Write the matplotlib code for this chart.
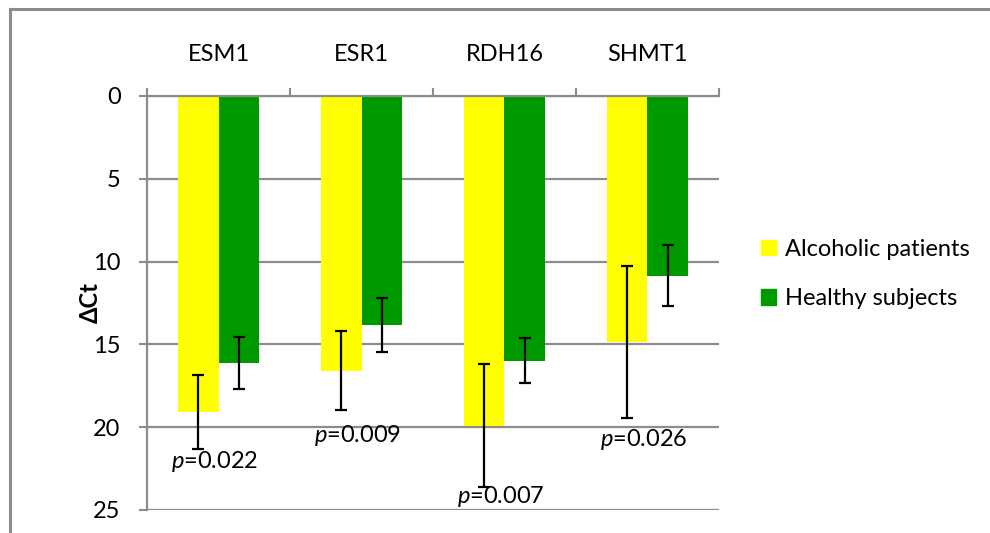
import matplotlib.pyplot as plt
import numpy as np
from matplotlib.lines import Line2D
from matplotlib.patches import Patch

plt.rcParams['font.family'] = ['Lato', 'DejaVu Sans']
plt.rcParams['mathtext.fontset'] = 'custom'
plt.rcParams['mathtext.it'] = 'Lato:italic'
plt.rcParams['mathtext.rm'] = 'Lato'

genes = ['ESM1', 'ESR1', 'RDH16', 'SHMT1']
alcoholic = [19.1, 16.6, 19.9, 14.85]
alcoholic_err = [2.23, 2.38, 3.73, 4.57]
healthy = [16.15, 13.85, 15.98, 10.85]
healthy_err = [1.57, 1.63, 1.38, 1.84]
pvals = ['0.022', '0.009', '0.007', '0.026']
# where each p-value label sits (in delta Ct units)
p_y = [22.1, 20.5, 24.2, 20.75]

fs = 17
grey = '#8c8c8c'
fig = plt.figure(figsize=(9.9, 5.33), dpi=100)
ax = fig.add_axes([147/990, 1-510/533, (719-147)/990, (510-96)/533])

x = np.arange(len(genes))
w = 0.283
ax.bar(x - w/2, alcoholic, w, color='#ffff00', zorder=2)
ax.bar(x + w/2, healthy, w, color='#009900', zorder=2)
ax.errorbar(x - w/2, alcoholic, yerr=alcoholic_err, fmt='none', ecolor='black',
            elinewidth=1.6, capsize=4.6, capthick=1.6, zorder=3)
ax.errorbar(x + w/2, healthy, yerr=healthy_err, fmt='none', ecolor='black',
            elinewidth=1.6, capsize=4.6, capthick=1.6, zorder=3)

for i, p in enumerate(pvals):
    ax.text(x[i] - 0.335, p_y[i], r'$p$=' + p, fontsize=fs, ha='left', va='center', zorder=4)

ax.set_xlim(-0.5, 3.5)
ax.set_ylim(25, 0)
ax.set_yticks([0, 5, 10, 15, 20, 25])
ax.yaxis.grid(True, color=grey, linewidth=1.6, zorder=0)
ax.set_axisbelow(True)

# category boundaries carry the tick marks, names sit at the centres
ax.xaxis.tick_top()
ax.set_xticks(np.arange(-0.5, 4, 1))
ax.set_xticklabels([])
ax.set_xticks(x, minor=True)
ax.set_xticklabels(genes, minor=True, fontsize=fs)
ax.tick_params(axis='x', which='major', direction='out', length=6, width=1.5, color=grey)
ax.tick_params(axis='x', which='minor', length=0, pad=22)
ax.tick_params(axis='y', direction='out', length=6, width=1.5, color=grey, pad=13, labelsize=fs)

for side in ['right', 'bottom']:
    ax.spines[side].set_visible(False)
for side in ['left', 'top']:
    ax.spines[side].set_color(grey)
    ax.spines[side].set_linewidth(1.6)

fig.text(90/990, 1-303/533, 'ΔCt', rotation=90, fontsize=fs, fontweight='bold',
         ha='center', va='center')

handles = [Patch(color='#ffff00'), Patch(color='#009900')]
fig.legend(handles, ['Alcoholic patients', 'Healthy subjects'], loc='center left',
           bbox_to_anchor=(740/990, 1-274/533), frameon=False, fontsize=fs,
           handlelength=0.64, handleheight=0.64, handletextpad=0.35, labelspacing=1.2)

# chart frame: top and left edges only
fig.add_artist(Line2D([10/990, 1], [1-9/533, 1-9/533], color=grey, linewidth=2.2,
                      transform=fig.transFigure))
fig.add_artist(Line2D([10/990, 10/990], [1-9/533, 0], color=grey, linewidth=2.2,
                      transform=fig.transFigure))

fig.savefig('out.png', dpi=100)
